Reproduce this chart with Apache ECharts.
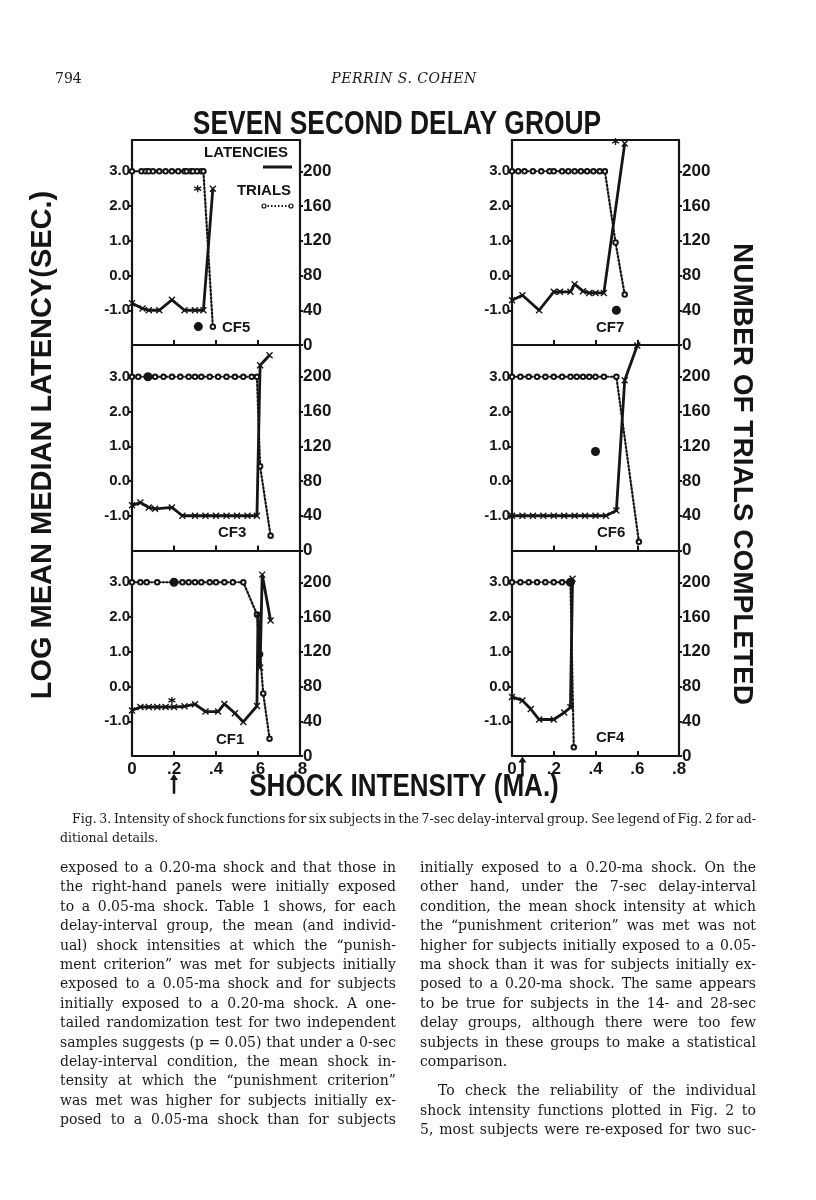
<!DOCTYPE html>
<html lang="en">
<head>
<meta charset="UTF-8">
<title>Seven second delay group</title>
<script src="https://cdn.jsdelivr.net/npm/echarts@6.0.0/dist/echarts.min.js"></script>
<style>
  body { margin: 0; background: #fff; }
  #page { position: relative; width: 816px; height: 1200px; overflow: hidden; background: #fff; }
  #chart { position: absolute; left: 0; top: 0; width: 816px; height: 1200px; }
  .serif { position: absolute; font-family: 'DejaVu Serif', serif; color: #1a1a1a; }
  .col { font-size: 14px; line-height: 19.4px; width: 336px; top: 858px; }
  .ln { display: flex; justify-content: space-between; white-space: nowrap; }
  .ln.end { display: block; }
  .cap { font-size: 12.5px; line-height: 18.5px; left: 60px; width: 696px; top: 810px; }
</style>
</head>
<body>
<div id="page">
  <div id="chart"></div>

  <!-- running head -->
  <div class="serif" style="left:55px; top:70px; font-size:14px;">794</div>
  <div class="serif" style="left:0; width:808px; top:70px; font-size:14px; text-align:center; font-style:italic; letter-spacing:0.5px;">PERRIN S. COHEN</div>

  <!-- figure caption -->
  <div class="serif cap">
    <div class="ln" style="padding-left:12px;">Fig. 3. Intensity of shock functions for six subjects in the 7-sec delay-interval group. See legend of Fig. 2 for ad-</div>
    <div class="ln end">ditional details.</div>
  </div>

  <!-- body text, left column -->
  <div class="serif col" style="left:60px;">
    <div class="ln">exposed to a 0.20-ma shock and that those in</div>
    <div class="ln">the right-hand panels were initially exposed</div>
    <div class="ln">to a 0.05-ma shock. Table 1 shows, for each</div>
    <div class="ln">delay-interval group, the mean (and individ-</div>
    <div class="ln">ual) shock intensities at which the “punish-</div>
    <div class="ln">ment criterion” was met for subjects initially</div>
    <div class="ln">exposed to a 0.05-ma shock and for subjects</div>
    <div class="ln">initially exposed to a 0.20-ma shock. A one-</div>
    <div class="ln">tailed randomization test for two independent</div>
    <div class="ln">samples suggests (p = 0.05) that under a 0-sec</div>
    <div class="ln">delay-interval condition, the mean shock in-</div>
    <div class="ln">tensity at which the “punishment criterion”</div>
    <div class="ln">was met was higher for subjects initially ex-</div>
    <div class="ln">posed to a 0.05-ma shock than for subjects</div>
  </div>

  <!-- body text, right column -->
  <div class="serif col" style="left:420px;">
    <div class="ln">initially exposed to a 0.20-ma shock. On the</div>
    <div class="ln">other hand, under the 7-sec delay-interval</div>
    <div class="ln">condition, the mean shock intensity at which</div>
    <div class="ln">the “punishment criterion” was met was not</div>
    <div class="ln">higher for subjects initially exposed to a 0.05-</div>
    <div class="ln">ma shock than it was for subjects initially ex-</div>
    <div class="ln">posed to a 0.20-ma shock. The same appears</div>
    <div class="ln">to be true for subjects in the 14- and 28-sec</div>
    <div class="ln">delay groups, although there were too few</div>
    <div class="ln">subjects in these groups to make a statistical</div>
    <div class="ln end">comparison.</div>
    <div class="ln" style="margin-top:10px; padding-left:18px;">To check the reliability of the individual</div>
    <div class="ln">shock intensity functions plotted in Fig. 2 to</div>
    <div class="ln">5, most subjects were re-exposed for two suc-</div>
  </div>
</div>

<script>
// spread each justified line's words across the column
document.querySelectorAll('.ln:not(.end)').forEach(function (el) {
  const words = el.textContent.trim().split(/\s+/);
  el.textContent = '';
  words.forEach(function (w) {
    const s = document.createElement('span');
    s.textContent = w;
    el.appendChild(s);
  });
});

const INK = '#151515';
const FONT = '"Liberation Sans", "DejaVu Sans", sans-serif';

// shock intensity ticks (ma)
const xTicks = [0, 0.2, 0.4, 0.6, 0.8];

// --- CF5 (top left) : latency = log sec, trials = count ---
const cf5Latency = [[0, -0.8], [0.05, -0.95], [0.08, -1.0], [0.13, -1.0], [0.19, -0.7], [0.25, -1.0], [0.3, -1.0], [0.34, -1.0], [0.385, 2.5]];
const cf5Trials = [[0, 200], [0.045, 200], [0.065, 200], [0.08, 200], [0.1, 200], [0.13, 200], [0.16, 200], [0.19, 200], [0.22, 200], [0.25, 200], [0.26, 200], [0.28, 200], [0.29, 200], [0.31, 200], [0.33, 200], [0.34, 200], [0.385, 21]];
const cf5Dots = [[0.316, -1.47]];
const cf5Stars = [[0.313, 2.5]];

// --- CF7 (top right) ---
const cf7Latency = [[0, -0.71], [0.05, -0.57], [0.13, -1.0], [0.2, -0.47], [0.23, -0.47], [0.28, -0.47], [0.3, -0.25], [0.34, -0.45], [0.37, -0.5], [0.4, -0.5], [0.44, -0.5], [0.54, 3.8]];
const cf7Trials = [[0, 200], [0.03, 200], [0.06, 200], [0.1, 200], [0.14, 200], [0.18, 200], [0.2, 200], [0.24, 200], [0.27, 200], [0.3, 200], [0.33, 200], [0.36, 200], [0.39, 200], [0.42, 200], [0.445, 200], [0.496, 118], [0.54, 58]];
const cf7Dots = [[0.5, -1.0]];
const cf7Stars = [[0.496, 3.86]];

// --- CF3 (middle left) ---
const cf3Latency = [[0, -0.7], [0.04, -0.62], [0.08, -0.76], [0.11, -0.8], [0.19, -0.76], [0.24, -1.0], [0.3, -1.0], [0.35, -1.0], [0.4, -1.0], [0.45, -1.0], [0.5, -1.0], [0.55, -1.0], [0.595, -1.0], [0.61, 3.33], [0.655, 3.62]];
const cf3Trials = [[0, 200], [0.03, 200], [0.076, 200], [0.11, 200], [0.15, 200], [0.19, 200], [0.23, 200], [0.27, 200], [0.3, 200], [0.33, 200], [0.37, 200], [0.41, 200], [0.45, 200], [0.49, 200], [0.53, 200], [0.57, 200], [0.595, 200], [0.61, 97], [0.66, 17]];
const cf3Dots = [[0.076, 3.0]];
const cf3Stars = [];

// --- CF6 (middle right) ---
const cf6Latency = [[0, -1.0], [0.05, -1.0], [0.1, -1.0], [0.15, -1.0], [0.2, -1.0], [0.25, -1.0], [0.3, -1.0], [0.35, -1.0], [0.4, -1.0], [0.45, -1.0], [0.5, -0.85], [0.54, 2.9], [0.6, 3.9]];
const cf6Trials = [[0, 200], [0.04, 200], [0.08, 200], [0.12, 200], [0.16, 200], [0.2, 200], [0.24, 200], [0.28, 200], [0.31, 200], [0.34, 200], [0.37, 200], [0.4, 200], [0.44, 200], [0.5, 200], [0.608, 10]];
const cf6Dots = [[0.4, 0.85]];
const cf6Stars = [];

// --- CF1 (bottom left) ---
const cf1Latency = [[0, -0.69], [0.04, -0.59], [0.08, -0.59], [0.12, -0.59], [0.16, -0.59], [0.2, -0.59], [0.25, -0.57], [0.3, -0.51], [0.35, -0.72], [0.41, -0.72], [0.44, -0.5], [0.49, -0.77], [0.53, -1.02], [0.595, -0.56], [0.6, 2.08], [0.61, 0.55], [0.62, 3.22], [0.66, 1.9]];
const cf1Trials = [[0, 200], [0.04, 200], [0.07, 200], [0.12, 200], [0.2, 200], [0.24, 200], [0.27, 200], [0.3, 200], [0.33, 200], [0.37, 200], [0.4, 200], [0.44, 200], [0.48, 200], [0.53, 200], [0.595, 163], [0.61, 117], [0.625, 72], [0.655, 20]];
const cf1Dots = [[0.2, 3.0]];
const cf1Stars = [[0.19, -0.4]];
const cf1Arrow = [[0.2, -2.8]];

// --- CF4 (bottom right) ---
const cf4Latency = [[0, -0.3], [0.05, -0.4], [0.09, -0.65], [0.13, -0.95], [0.2, -0.95], [0.25, -0.75], [0.28, -0.6], [0.29, 3.1]];
const cf4Trials = [[0, 200], [0.04, 200], [0.08, 200], [0.12, 200], [0.16, 200], [0.2, 200], [0.24, 200], [0.28, 200], [0.296, 10]];
const cf4Dots = [[0.28, 3.0]];
const cf4Stars = [];
const cf4Arrow = [[0.05, -2.3]];

const panels = [
  { label: 'CF5', lat: cf5Latency, trials: cf5Trials, dots: cf5Dots, stars: cf5Stars, arrow: [], col: 0, row: 0 },
  { label: 'CF7', lat: cf7Latency, trials: cf7Trials, dots: cf7Dots, stars: cf7Stars, arrow: [], col: 1, row: 0 },
  { label: 'CF3', lat: cf3Latency, trials: cf3Trials, dots: cf3Dots, stars: cf3Stars, arrow: [], col: 0, row: 1 },
  { label: 'CF6', lat: cf6Latency, trials: cf6Trials, dots: cf6Dots, stars: cf6Stars, arrow: [], col: 1, row: 1 },
  { label: 'CF1', lat: cf1Latency, trials: cf1Trials, dots: cf1Dots, stars: cf1Stars, arrow: cf1Arrow, col: 0, row: 2 },
  { label: 'CF4', lat: cf4Latency, trials: cf4Trials, dots: cf4Dots, stars: cf4Stars, arrow: cf4Arrow, col: 1, row: 2 }
];

// layout of the six panels
const colLeft = [132, 512];
const colWidth = [168, 167];
const rowTop = [140, 345.5, 551];
const rowHeight = 205;
const labelPos = [[222, 328], [596, 328], [218, 533], [597, 533], [216, 740], [596, 738]];

const X_MARK = 'path://M0,0L10,10M10,0L0,10';
const STAR = 'path://M5,0L5,10M0,2.5L10,7.5M10,2.5L0,7.5';
const ARROW = 'path://M5,0L10,8L6.6,8L6.6,26L3.4,26L3.4,8L0,8Z';

function fmtX(v) {
  const r = Math.round(v * 10) / 10;
  return r === 0 ? '0' : String(r).replace(/^0/, '');
}

const grid = [], xAxis = [], yAxis = [], series = [], graphic = [];

panels.forEach(function (p, i) {
  const isTop = p.row === 0, isBottom = p.row === 2;
  grid.push({ left: colLeft[p.col], width: colWidth[p.col], top: rowTop[p.row], height: rowHeight });

  xAxis.push({
    gridIndex: i, type: 'value', min: 0, max: 0.8, interval: 0.2, position: 'bottom',
    axisLine: { show: true, onZero: false, lineStyle: { color: INK, width: 2.2 } },
    axisTick: { show: true, inside: true, length: 5, lineStyle: { color: INK, width: 2 } },
    axisLabel: { show: isBottom, formatter: fmtX, color: INK, fontFamily: FONT, fontWeight: 'bold', fontSize: 17, margin: 5 },
    splitLine: { show: false }
  });
  xAxis.push({
    gridIndex: i, type: 'value', min: 0, max: 0.8, position: 'top',
    axisLine: { show: isTop, onZero: false, lineStyle: { color: INK, width: 2.2 } },
    axisTick: { show: false }, axisLabel: { show: false }, splitLine: { show: false }
  });
  yAxis.push({
    gridIndex: i, type: 'value', min: -2, max: 3.9, interval: 1, position: 'left',
    axisLine: { show: true, onZero: false, lineStyle: { color: INK, width: 2.2 } },
    axisTick: { show: true, length: 3, lineStyle: { color: INK, width: 2 } },
    axisLabel: { showMinLabel: false, showMaxLabel: false, formatter: function (v) { return v.toFixed(1); },
      color: INK, fontFamily: FONT, fontWeight: 'bold', fontSize: 15, margin: 2 },
    splitLine: { show: false }
  });
  yAxis.push({
    gridIndex: i, type: 'value', min: 0, max: 236, interval: 40, position: 'right',
    axisLine: { show: true, onZero: false, lineStyle: { color: INK, width: 2.2 } },
    axisTick: { show: true, length: 3, lineStyle: { color: INK, width: 2 } },
    axisLabel: { showMaxLabel: false, color: INK, fontFamily: FONT, fontWeight: 'bold', fontSize: 17, margin: 3 },
    splitLine: { show: false }
  });

  series.push({
    type: 'line', xAxisIndex: 2 * i, yAxisIndex: 2 * i + 1, data: p.trials,
    symbol: 'emptyCircle', symbolSize: 4.5,
    lineStyle: { color: INK, width: 2.2, type: [1.6, 2.2], cap: 'round' },
    itemStyle: { color: INK, borderColor: INK, borderWidth: 1.2 },
    animation: false, silent: true, z: 2
  });
  series.push({
    type: 'line', xAxisIndex: 2 * i, yAxisIndex: 2 * i, data: p.lat,
    symbol: X_MARK, symbolSize: 6,
    lineStyle: { color: INK, width: 2.8 },
    itemStyle: { color: INK, borderColor: INK, borderWidth: 1.4 },
    animation: false, silent: true, z: 3
  });
  series.push({
    type: 'scatter', xAxisIndex: 2 * i, yAxisIndex: 2 * i, data: p.dots,
    symbol: 'circle', symbolSize: 9, itemStyle: { color: INK, opacity: 1 }, animation: false, silent: true, z: 4
  });
  series.push({
    type: 'scatter', xAxisIndex: 2 * i, yAxisIndex: 2 * i, data: p.stars,
    symbol: STAR, symbolSize: 7, itemStyle: { color: INK, borderColor: INK, borderWidth: 1.3, opacity: 1 },
    animation: false, silent: true, z: 4
  });
  series.push({
    type: 'scatter', xAxisIndex: 2 * i, yAxisIndex: 2 * i, data: p.arrow, clip: false,
    symbol: ARROW, symbolSize: [8, 20], itemStyle: { color: INK, opacity: 1 }, animation: false, silent: true
  });

  graphic.push({
    type: 'text', x: labelPos[i][0], y: labelPos[i][1],
    style: { text: p.label, font: 'bold 15px ' + FONT, fill: INK, align: 'left', verticalAlign: 'middle' }
  });
});

// headings and axis titles (condensed lettering via scaleX)
graphic.push(
  { type: 'text', x: 397, y: 125, scaleX: 0.8, style: { text: 'SEVEN SECOND DELAY GROUP', font: 'bold 33px ' + FONT, fill: INK, align: 'center', verticalAlign: 'middle' } },
  { type: 'text', x: 43, y: 445, rotation: Math.PI / 2, style: { text: 'LOG MEAN MEDIAN LATENCY(SEC.)', font: 'bold 29px ' + FONT, fill: INK, align: 'center', verticalAlign: 'middle' } },
  { type: 'text', x: 742, y: 474, rotation: -Math.PI / 2, style: { text: 'NUMBER OF TRIALS COMPLETED', font: 'bold 28px ' + FONT, fill: INK, align: 'center', verticalAlign: 'middle' } },
  { type: 'text', x: 404, y: 787, scaleX: 0.84, style: { text: 'SHOCK INTENSITY (MA.)', font: 'bold 31px ' + FONT, fill: INK, align: 'center', verticalAlign: 'middle' } },
  // legend inside CF5
  { type: 'text', x: 246, y: 153, style: { text: 'LATENCIES', font: 'bold 15px ' + FONT, fill: INK, align: 'center', verticalAlign: 'middle' } },
  { type: 'line', shape: { x1: 263, y1: 167, x2: 292, y2: 167 }, style: { stroke: INK, lineWidth: 3 } },
  { type: 'text', x: 264, y: 191, style: { text: 'TRIALS', font: 'bold 15px ' + FONT, fill: INK, align: 'center', verticalAlign: 'middle' } },
  { type: 'line', shape: { x1: 264, y1: 206, x2: 291, y2: 206 }, style: { stroke: INK, lineWidth: 2, lineDash: [1.5, 2] } },
  { type: 'circle', shape: { cx: 264, cy: 206, r: 2 }, style: { fill: '#fff', stroke: INK, lineWidth: 1.2 } },
  { type: 'circle', shape: { cx: 291, cy: 206, r: 2 }, style: { fill: '#fff', stroke: INK, lineWidth: 1.2 } }
);

const chart = echarts.init(document.getElementById('chart'));
chart.setOption({
  animation: false,
  backgroundColor: 'transparent',
  grid: grid,
  xAxis: xAxis,
  yAxis: yAxis,
  series: series,
  graphic: graphic
});
</script>
</body>
</html>
